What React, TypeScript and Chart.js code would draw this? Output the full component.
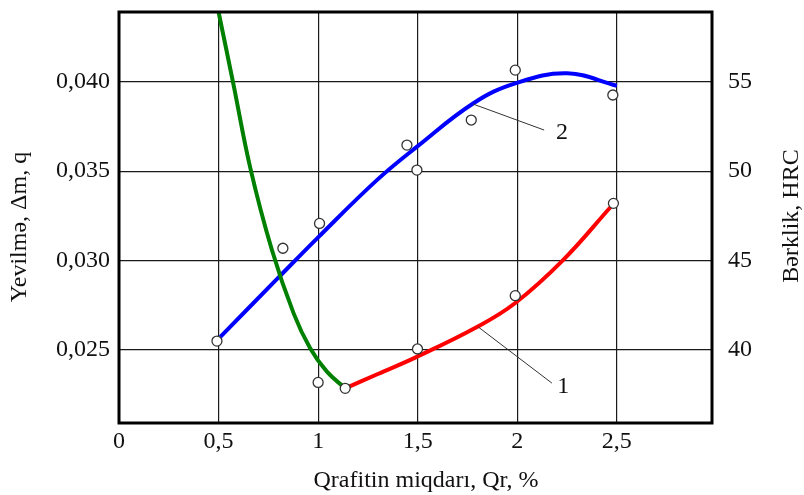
import React, { useEffect, useRef } from "react";
import { Chart, registerables } from "chart.js";

Chart.register(...registerables);

// ---- axis ranges & ticks ----
const X_MIN = 0;
const X_MAX = 2.978;
const Y_MIN = 0.02092;
const Y_MAX = 0.0439;
const xTicks = [0, 0.5, 1, 1.5, 2, 2.5];
const xTickLabels = ["0", "0,5", "1", "1,5", "2", "2,5"];
const wearTicks = [0.025, 0.03, 0.035, 0.04];
const wearTickLabels = ["0,025", "0,030", "0,035", "0,040"];
const hrcTicks = [40, 45, 50, 55];
// HRC = 1000 * wear + 15 (55 aligns with 0,040; 40 with 0,025)
const HRC_SCALE = 1000;
const HRC_OFFSET = 15;

// ---- curve 1 (red) ----
const curve1X = [1.136, 1.3, 1.49, 1.8, 1.99, 2.23, 2.47];
const curve1Y = [0.02286, 0.02366, 0.02459, 0.0263, 0.02763, 0.03003, 0.03301];

// ---- curve 2 (blue) ----
const curve2X = [0.509, 0.805, 1.0, 1.295, 1.5, 1.78, 1.99, 2.25, 2.5];
const curve2Y = [0.02574, 0.0291, 0.0313, 0.0345, 0.0364, 0.0388, 0.03991, 0.04047, 0.03978];

// ---- green curve ----
const curve3X = [0.5, 0.574, 0.659, 0.768, 0.877, 0.96, 1.044, 1.136];
const curve3Y = [0.0439, 0.0399, 0.0352, 0.03059, 0.02705, 0.0251, 0.02379, 0.02286];

// ---- measured points (circles) ----
const markerX = [0.492, 0.823, 1.007, 1.0, 1.136, 1.446, 1.496, 1.499, 1.769, 1.99, 1.99, 2.48, 2.483];
const markerY = [0.0255, 0.03069, 0.03208, 0.02319, 0.02286, 0.03646, 0.03506, 0.02506, 0.03786, 0.04065, 0.02804, 0.03926, 0.0332];

// ---- callouts (curve numbers) ----
const calloutLabels = ["1", "2"];
const calloutFrom = [[1.804, 0.02629], [1.779, 0.03875]];
const calloutTo = [[2.174, 0.02315], [2.135, 0.0373]];
const calloutText = [[2.231, 0.02295], [2.225, 0.03713]];

const xTitle = "Qrafitin miqdarı, Qr, %";
const yTitle = "Yevilmə, Δm, q";
const y2Title = "Bərklik, HRC";

const FONT = '"Liberation Serif", "Times New Roman", serif';

const toPts = (xs: number[], ys: number[]) => xs.map((x, i) => ({ x, y: ys[i] }));

const framePlugin = {
  id: "frameAndText",
  afterDatasetsDraw(chart: any) {
    const { ctx, chartArea, scales } = chart;
    const sx = scales.x;
    const sy = scales.y;
    ctx.save();
    ctx.strokeStyle = "#333";
    ctx.lineWidth = 1;
    ctx.fillStyle = "#111";
    ctx.font = `24px ${FONT}`;
    ctx.textAlign = "center";
    ctx.textBaseline = "middle";
    calloutLabels.forEach((lab, i) => {
      ctx.beginPath();
      ctx.moveTo(sx.getPixelForValue(calloutFrom[i][0]), sy.getPixelForValue(calloutFrom[i][1]));
      ctx.lineTo(sx.getPixelForValue(calloutTo[i][0]), sy.getPixelForValue(calloutTo[i][1]));
      ctx.stroke();
      ctx.fillText(lab, sx.getPixelForValue(calloutText[i][0]), sy.getPixelForValue(calloutText[i][1]));
    });
    ctx.strokeStyle = "#000";
    ctx.lineWidth = 3;
    ctx.strokeRect(chartArea.left, chartArea.top, chartArea.right - chartArea.left, chartArea.bottom - chartArea.top);
    ctx.restore();
  },
  afterDraw(chart: any) {
    const { ctx } = chart;
    ctx.save();
    ctx.fillStyle = "#111";
    ctx.font = `24px ${FONT}`;
    ctx.textAlign = "center";
    ctx.textBaseline = "alphabetic";
    ctx.fillText(xTitle, 426, 487);
    ctx.textBaseline = "middle";
    ctx.translate(20, 227);
    ctx.rotate(-Math.PI / 2);
    ctx.fillText(yTitle, 0, 0);
    ctx.restore();
    ctx.save();
    ctx.fillStyle = "#111";
    ctx.font = `24px ${FONT}`;
    ctx.textAlign = "center";
    ctx.textBaseline = "middle";
    ctx.translate(792, 216);
    ctx.rotate(-Math.PI / 2);
    ctx.fillText(y2Title, 0, 0);
    ctx.restore();
  },
};

const zeroPad = (s: any) => {
  s.paddingTop = 0;
  s.paddingBottom = 0;
  s.paddingLeft = 0;
  s.paddingRight = 0;
};

export default function App() {
  const ref = useRef<HTMLCanvasElement | null>(null);
  useEffect(() => {
    if (!ref.current) return;
    const lineDs = (pts: any[], color: string) => ({
      type: "line" as const,
      data: pts,
      borderColor: color,
      backgroundColor: color,
      borderWidth: 4,
      pointRadius: 0,
      showLine: true,
      tension: 0.4,
      fill: false,
      order: 2,
    });
    const chart = new Chart(ref.current, {
      type: "scatter",
      data: {
        datasets: [
          {
            type: "scatter",
            data: toPts(markerX, markerY),
            pointRadius: 5,
            pointBackgroundColor: "#fff",
            pointBorderColor: "#333",
            pointBorderWidth: 1.3,
            order: 0,
          } as any,
          lineDs(toPts(curve3X, curve3Y), "#008000"),
          lineDs(toPts(curve2X, curve2Y), "#0000ff"),
          lineDs(toPts(curve1X, curve1Y), "#ff0000"),
        ],
      },
      options: {
        responsive: false,
        animation: false,
        devicePixelRatio: 1,
        layout: { padding: { top: 12, left: 0, right: 0, bottom: 0 } },
        plugins: { legend: { display: false }, tooltip: { enabled: false } },
        scales: {
          x: {
            type: "linear",
            min: X_MIN,
            max: X_MAX,
            afterFit: (s: any) => { s.height = 72; zeroPad(s); },
            afterBuildTicks: (s: any) => { s.ticks = xTicks.map((v) => ({ value: v })); },
            grid: { color: "#1a1a1a", lineWidth: 1.2, drawTicks: false },
            border: { display: false },
            ticks: {
              padding: 4,
              color: "#111",
              font: { family: FONT, size: 24 },
              callback: (v: any) => xTickLabels[xTicks.indexOf(Number(v))] ?? "",
              maxRotation: 0,
              autoSkip: false,
            },
          },
          y: {
            type: "linear",
            position: "left",
            min: Y_MIN,
            max: Y_MAX,
            afterFit: (s: any) => { s.width = 119; zeroPad(s); },
            afterBuildTicks: (s: any) => { s.ticks = wearTicks.map((v) => ({ value: v })); },
            grid: { color: "#1a1a1a", lineWidth: 1.2, drawTicks: false },
            border: { display: false },
            ticks: {
              padding: 9,
              color: "#111",
              font: { family: FONT, size: 24 },
              callback: (v: any) => {
                const i = wearTicks.findIndex((t) => Math.abs(t - Number(v)) < 1e-6);
                return i >= 0 ? wearTickLabels[i] : "";
              },
              autoSkip: false,
            },
          },
          y2: {
            type: "linear",
            position: "right",
            min: Y_MIN * HRC_SCALE + HRC_OFFSET,
            max: Y_MAX * HRC_SCALE + HRC_OFFSET,
            afterFit: (s: any) => { s.width = 92; zeroPad(s); },
            afterBuildTicks: (s: any) => { s.ticks = hrcTicks.map((v) => ({ value: v })); },
            grid: { display: false, drawTicks: false },
            border: { display: false },
            ticks: {
              padding: 16,
              color: "#111",
              font: { family: FONT, size: 24 },
              callback: (v: any) => String(v),
              autoSkip: false,
            },
          },
        },
      },
      plugins: [framePlugin],
    });
    return () => chart.destroy();
  }, []);
  return (
    <div style={{ position: "fixed", left: 0, top: 0, width: 804, height: 495, background: "#fff" }}>
      <canvas ref={ref} width={804} height={495} style={{ display: "block" }} />
    </div>
  );
}
